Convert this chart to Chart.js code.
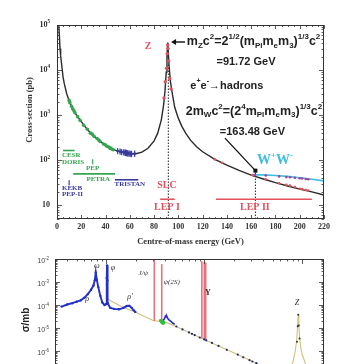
<!DOCTYPE html>
<html><head><meta charset="utf-8">
<script src="https://cdn.jsdelivr.net/npm/chart.js@4/dist/chart.umd.min.js"></script>
<style>
html,body{margin:0;padding:0;background:#fff;overflow:hidden;width:356px;height:364px;}
#c1{position:absolute;left:0;top:0;}
#c2{position:absolute;left:0;top:250px;}
</style></head><body>
<canvas id="c1" width="356" height="250"></canvas>
<canvas id="c2" width="356" height="160"></canvas>
<script>
// ===== Top panel: e+e- -> hadrons cross-section (pb) vs centre-of-mass energy (GeV)
const curveEnergy = [1.5,2,2.5,3,4,5,6,8,10,12,15,20,25,30,35,40,45,50,55,60,65,70,75,80,83,86,88,89,90,90.6,91.2,91.8,92.5,93.5,95,97,100,103,106,110,115,120,130,140,150,160,170,180,190,200,210,220];
const curveSigma  = [100000,55000,30000,21000,12000,7000,5000,3000,2100,1550,1100,720,480,350,270,215,180,160,148,140,140,152,185,270,400,800,1800,3500,9000,20000,41000,22000,11000,5500,3000,1500,850,560,400,280,200,155,105,78,60,47,38.5,32,27,23,20,17];
const petraEnergy = [10,10.6,12,13,14,14.8,17,19,22,25,27.5,29,30.5,33,34.5,35.5,38.3,39.8,41,42.6,43.6,44.2,45.5,46.3];
const petraSigma  = [2150,1900,1580,1380,1260,1130,930,770,600,490,400,380,340,305,280,262,230,220,205,198,186,188,176,172];
const tristanEnergy = [50,52,53.3,55,56,56.5,57.3,57.8,58.5,59.5,60.8,61.4,64];
const tristanSigma  = [160,156,152,150,148,146,145,144,142,141,139,138,140];
const lep1Energy = [88.2,89.2,90.2,90.8,91.2,91.5,92,93,94];
const lep1Sigma  = [2400,5500,11000,23000,36000,30000,16000,6500,3800];
const lep2Energy = [130,136,161,172,183,189,192,196,200,202,205,207];
const lep2Sigma  = [105,88,47,38,31,28.5,27.5,25.5,23.5,23,22,21.5];
const wwCurveEnergy = [161,163.5,170,180,190,200,210,220];
const wwCurveSigma  = [47,48,47.5,46,44,41,38,35];
const wwEnergy = [163,172,183,189,192,196,200,202,205,207];
const wwSigma  = [47,46,44,42.5,42,41,40,39.5,38.5,38];
const zMassLine = 91.72, wwThreshold = 163.48;
const xTickLabels = [0,20,40,60,80,100,120,140,160,180,200,220];
const yTickExponents = [1,2,3,4,5];
// collider energy ranges: [label, Emin, Emax, level(pb)]
const colliderRanges = [['CESR',5,14.5,165],['PETRA',13.4,47.8,50],['TRISTAN',47.8,67,37],['LEP I',85,97,13.7],['LEP II',131,210,13.7]];
const colliderPoints = [['PEP',29.4,93],['KEKB',10,32]];

// ===== Bottom panel: sigma (mb) vs sqrt(s) (GeV), log-log
const lowEnergy = [0.35,0.40,0.45,0.50,0.55,0.60,0.65,0.70,0.74,0.765,0.782,0.80,0.83,0.87,0.91,0.96,1.00,1.012,1.019,1.026,1.04,1.1,1.2,1.35,1.5,1.62,1.72,1.82,1.9,1.98];
const lowSigma  = [8.5e-5,1.05e-4,1.2e-4,1.4e-4,1.6e-4,2.1e-4,3e-4,4.6e-4,7e-4,1.2e-3,2.6e-3,1.3e-3,6e-4,2.5e-4,1.3e-4,1e-4,1.1e-4,1.5e-3,5.2e-3,1.2e-3,1.2e-4,7.5e-5,6.8e-5,6.5e-5,7.5e-5,9e-5,9.2e-5,7.5e-5,6e-5,5e-5];
const charmEnergy = [3.75,3.9,4.03,4.1,4.16,4.25,4.4,4.6,4.8,5.0];
const charmSigma  = [2.0e-5,2.4e-5,3.3e-5,3.0e-5,3.2e-5,2.6e-5,2.2e-5,1.9e-5,1.6e-5,1.45e-5];
const greenEnergy = [3.6,3.7,3.75,3.8,3.85];
const greenSigma  = [2.1e-5,1.8e-5,1.7e-5,1.6e-5,1.75e-5];
const highEnergy = [5.2,6,7,7.5,8,9,10,10.5,12,14,17,22,25,29,31,34];
const highSigma  = [1.16e-5,8.7e-6,6.4e-6,5.6e-6,4.9e-6,3.86e-6,3.2e-6,2.9e-6,2.25e-6,1.66e-6,1.13e-6,6.9e-7,5.3e-7,4.0e-7,3.5e-7,2.95e-7];
const modelEnergy = [1.0,1.5,2,3,4,5,7,10,15,20,30,40,50,60,70,80,85,88,90,91.2,92.4,94,97,100,110,130,167];
const modelSigma  = [1.9e-4,7.7e-5,4.8e-5,2.1e-5,1.8e-5,1.25e-5,6.4e-6,3.2e-6,1.47e-6,8.4e-7,3.8e-7,2.2e-7,1.6e-7,1.3e-7,1.5e-7,3e-7,1e-6,3e-6,1.5e-5,4.1e-5,1.5e-5,4e-6,1.3e-6,7e-7,2.3e-7,1e-7,5e-8];
const zPeakEnergy = [88.5,90,91.2,92.3,94];
const zPeakSigma  = [2.5e-6,1.2e-5,3.8e-5,1.3e-5,3.5e-6];
const resonanceEnergy = [3.097,3.686,9.46,10.02,10.36];
const resonanceBase   = [2.0e-5,1.5e-5,3.4e-6,3.0e-6,2.8e-6];
const resonanceTop    = [1e-2,6e-3,8e-3,7.5e-3,7e-3];
const yTickExponents2 = [-2,-3,-4,-5,-6,-7];

// ---------- helpers
const pts = (xs, ys) => xs.map((x, i) => ({x, y: ys[i]}));
function rich(ctx, parts, x, y, size, family, weight, style, align, color) {
  const small = size * 0.64;
  const fN = `${style||'normal'} ${weight||'normal'} ${size}px ${family}`;
  const fS = `${style||'normal'} ${weight||'normal'} ${small}px ${family}`;
  let w = 0;
  for (const [t, m] of parts) { ctx.font = m === 'n' ? fN : fS; w += ctx.measureText(t).width; }
  let cx = align === 'center' ? x - w/2 : align === 'right' ? x - w : x;
  ctx.save(); ctx.fillStyle = color || '#222'; ctx.textBaseline = 'middle'; ctx.textAlign = 'left';
  for (const [t, m] of parts) {
    ctx.font = m === 'n' ? fN : fS;
    const dy = m === 'sup' ? -size*0.38 : m === 'sub' ? size*0.3 : 0;
    ctx.fillText(t, cx, y + dy); cx += ctx.measureText(t).width;
  }
  ctx.restore();
}
function seg(ctx, x1, y1, x2, y2) { ctx.beginPath(); ctx.moveTo(x1, y1); ctx.lineTo(x2, y2); ctx.stroke(); }

const SERIF = '"Liberation Serif"', SANS = '"Liberation Sans"';
const RED = '#e4505c', GREEN = '#36a450', BLUE = '#3a3a9c', CYAN = '#40bde0', MAG = '#a0449c';

// ---------- top annotations (data coordinates)
const topNotes = [
  {p:[['Z','n']], x:75, y:3.3e4, size:10, fam:SERIF, w:'bold', c:RED, a:'center'},
  {p:[['m','n'],['Z','sub'],['c','n'],['2','sup'],['=2','n'],['1/2','sup'],['(m','n'],['Pl','sub'],['m','n'],['e','sub'],['m','n'],['3','sub'],[')','n'],['1/3','sup'],['c','n'],['2','sup']], x:107, y:4.2e4, size:12.5, fam:SANS, w:'bold', c:'#222', a:'left'},
  {p:[['=91.72 GeV','n']], x:155.7, y:1.54e4, size:11, fam:SANS, w:'bold', c:'#222', a:'center'},
  {p:[['e','n'],['+','sup'],['e','n'],['-','sup'],['\u2192hadrons','n']], x:140, y:4550, size:11, fam:SANS, w:'bold', c:'#222', a:'center'},
  {p:[['2m','n'],['W','sub'],['c','n'],['2','sup'],['=(2','n'],['4','sup'],['m','n'],['Pl','sub'],['m','n'],['e','sub'],['m','n'],['3','sub'],[')','n'],['1/3','sup'],['c','n'],['2','sup']], x:162.3, y:1230, size:12.5, fam:SANS, w:'bold', c:'#222', a:'center'},
  {p:[['=163.48 GeV','n']], x:161, y:425, size:11, fam:SANS, w:'bold', c:'#222', a:'center'},
  {p:[['W','n'],['+','sup'],['W','n'],['-','sup']], x:179.6, y:98, size:14, fam:SERIF, w:'bold', c:CYAN, a:'center'},
  {p:[['SLC','n']], x:90.6, y:27.6, size:10, fam:SERIF, w:'bold', c:RED, a:'center'},
  {p:[['LEP I','n']], x:90.6, y:8.9, size:10, fam:SERIF, w:'bold', c:RED, a:'center'},
  {p:[['LEP II','n']], x:163, y:8.9, size:10, fam:SERIF, w:'bold', c:RED, a:'center'},
  {p:[['CESR','n']], x:4.1, y:127, size:7, fam:SERIF, w:'bold', c:GREEN, a:'left'},
  {p:[['DORIS','n']], x:4.1, y:91, size:7, fam:SERIF, w:'bold', c:GREEN, a:'left'},
  {p:[['PEP','n']], x:29.4, y:68, size:7, fam:SERIF, w:'bold', c:GREEN, a:'center'},
  {p:[['PETRA','n']], x:34, y:39, size:7, fam:SERIF, w:'bold', c:GREEN, a:'center'},
  {p:[['TRISTAN','n']], x:60, y:29.6, size:7, fam:SERIF, w:'bold', c:BLUE, a:'center'},
  {p:[['KEKB','n']], x:4.1, y:23.7, size:7, fam:SERIF, w:'bold', c:BLUE, a:'left'},
  {p:[['PEP-II','n']], x:4.1, y:17.5, size:7, fam:SERIF, w:'bold', c:BLUE, a:'left'}
];
const colliderColors = {'CESR':GREEN,'PETRA':GREEN,'TRISTAN':BLUE,'LEP I':RED,'LEP II':RED,'PEP':GREEN,'KEKB':BLUE};

const topPlugin = {
  id: 'topDeco',
  afterDatasetsDraw(chart) {
    const ctx = chart.ctx, a = chart.chartArea, xs = chart.scales.x, ys = chart.scales.y;
    const px = v => xs.getPixelForValue(v), py = v => ys.getPixelForValue(v);
    ctx.save();
    ctx.strokeStyle = '#333'; ctx.lineWidth = 1;
    ctx.strokeRect(a.left + 0.5, a.top + 0.5, a.right - a.left - 1, a.bottom - a.top - 1);
    ctx.lineWidth = 0.8;
    for (let v = 0; v <= 220; v += 5) {
      const L = v % 20 === 0 ? 4 : 2, X = Math.round(px(v)) + 0.5;
      seg(ctx, X, a.bottom, X, a.bottom - L); seg(ctx, X, a.top, X, a.top + L);
    }
    for (let d = 0; d <= 5; d++) for (let k = 1; k <= 9; k++) {
      const v = k * Math.pow(10, d); if (v < 5 || v > 1e5) continue;
      const L = k === 1 ? 5 : 2.5, Y = Math.round(py(v)) + 0.5;
      seg(ctx, a.left, Y, a.left + L, Y); seg(ctx, a.right, Y, a.right - L, Y);
    }
    for (const e of yTickExponents) {
      const parts = e === 1 ? [['10','n']] : [['10','n'],[String(e),'sup']];
      rich(ctx, parts, a.left - 7, py(Math.pow(10, e)), 8, SERIF, 'bold', 'normal', 'right', '#333');
    }
    ctx.save(); ctx.translate(30, 110); ctx.rotate(-Math.PI/2);
    ctx.font = 'bold 8.5px ' + SERIF; ctx.fillStyle = '#333'; ctx.textAlign = 'center'; ctx.textBaseline = 'middle';
    ctx.fillText('Cross-section (pb)', 0, 0); ctx.restore();
    ctx.font = 'bold 8.5px ' + SERIF; ctx.fillStyle = '#333'; ctx.textAlign = 'center'; ctx.textBaseline = 'middle';
    ctx.fillText('Centre-of-mass energy (GeV)', (a.left + a.right)/2, 242);
    ctx.strokeStyle = '#111'; ctx.fillStyle = '#111'; ctx.lineWidth = 1.4;
    let x1 = px(105.5), x2 = px(94), yA = py(4.2e4);
    seg(ctx, x1, yA, x2 + 3, yA);
    ctx.beginPath(); ctx.moveTo(x2, yA); ctx.lineTo(x2 + 5, yA - 3); ctx.lineTo(x2 + 5, yA + 3); ctx.closePath(); ctx.fill();
    const bx1 = px(138.4), by1 = py(310), bx2 = px(wwThreshold), by2 = py(59);
    ctx.lineWidth = 1.3; seg(ctx, bx1, by1, bx2, by2);
    ctx.fillRect(bx2 - 2, by2 - 2, 4, 4);
    for (const n of topNotes) rich(ctx, n.p, px(n.x), py(n.y), n.size, n.fam, n.w, 'normal', n.a, n.c);
    ctx.restore();
  }
};

const dsLine = (data, color, width, dash, order) => ({type:'line', data, borderColor:color, borderWidth:width, borderDash:dash||[], pointRadius:0, fill:false, tension:0, order:order||5});
const dsPts = (data, color, r, order, style) => ({type:'line', data, showLine:false, pointRadius:r, pointBackgroundColor:color, pointBorderColor:color, pointBorderWidth: style ? 1.2 : 0, pointStyle: style || 'circle', pointRotation: style ? 90 : 0, order:order||2});

const topDatasets = [
  dsLine(pts(curveEnergy, curveSigma), '#2b2b2b', 1.4, null, 6),
  dsLine(pts(wwCurveEnergy, wwCurveSigma), CYAN, 1.6, null, 5),
  dsLine([{x:zMassLine,y:5},{x:zMassLine,y:4.2e4}], '#222', 1, [1.5,1.5], 7),
  dsLine([{x:wwThreshold,y:5},{x:wwThreshold,y:59}], '#222', 1, [1.5,1.5], 7),
  dsPts(pts(petraEnergy, petraSigma), GREEN, 1.8, 2),
  dsPts(pts(tristanEnergy, tristanSigma), BLUE, 3.2, 2, 'line'),
  dsPts(pts(tristanEnergy, tristanSigma), BLUE, 1.4, 2),
  dsPts(pts(lep1Energy, lep1Sigma), RED, 1.7, 1),
  dsPts(pts(lep2Energy, lep2Sigma), RED, 1.3, 1),
  dsPts(pts(wwEnergy, wwSigma), MAG, 1.3, 1),
  ...colliderRanges.map(r => dsLine([{x:r[1],y:r[3]},{x:r[2],y:r[3]}], colliderColors[r[0]], 1.6, null, 3)),
  ...colliderPoints.map(r => dsPts([{x:r[1],y:r[2]}], colliderColors[r[0]], 2.5, 3, 'line'))
];

new Chart(document.getElementById('c1'), {
  type: 'line',
  data: { datasets: topDatasets },
  options: {
    responsive: false, animation: false, events: [],
    layout: { padding: { left: 0, right: 32, top: 25, bottom: 0 } },
    plugins: { legend: { display: false }, tooltip: { enabled: false } },
    scales: {
      x: { type: 'linear', min: 0, max: 220, afterFit: s => { s.height = 31; },
           afterBuildTicks: s => { s.ticks = xTickLabels.map(v => ({value: v})); },
           grid: { display: false, drawTicks: false }, border: { display: false },
           ticks: { padding: 3, autoSkip: false, maxRotation: 0, color: '#333', font: { family: 'Liberation Serif', size: 8, weight: 'bold' } } },
      y: { type: 'logarithmic', min: 5, max: 1e5, afterFit: s => { s.width = 57; },
           grid: { display: false, drawTicks: false }, border: { display: false }, ticks: { display: false } }
    }
  },
  plugins: [topPlugin]
});

// ---------- bottom panel
const lowNotes = [
  {p:[['\u03c9','n']], x:0.80, y:5e-3, size:8, st:'italic', w:'normal', fam:SERIF},
  {p:[['\u03c6','n']], x:1.17, y:4.1e-3, size:8, st:'italic', w:'normal', fam:SERIF},
  {p:[['\u03c1','n']], x:0.64, y:1.8e-4, size:8, st:'italic', w:'normal', fam:SERIF},
  {p:[['\u03c1\u2032','n']], x:1.75, y:2.2e-4, size:8, st:'italic', w:'normal', fam:SERIF},
  {p:[['J/\u03c8','n']], x:2.39, y:2.4e-3, size:7, st:'italic', w:'normal', fam:SERIF},
  {p:[['\u03c8(2S)','n']], x:4.66, y:1.03e-3, size:7, st:'italic', w:'normal', fam:SERIF},
  {p:[['\u03a5','n']], x:10.9, y:3.3e-4, size:8, st:'normal', w:'bold', fam:SERIF},
  {p:[['Z','n']], x:88.3, y:1.2e-4, size:8, st:'italic', w:'normal', fam:SERIF}
];
const botPlugin = {
  id: 'botDeco',
  afterDatasetsDraw(chart) {
    const ctx = chart.ctx, a = chart.chartArea, xs = chart.scales.x, ys = chart.scales.y;
    const px = v => xs.getPixelForValue(v), py = v => ys.getPixelForValue(v);
    ctx.save();
    ctx.strokeStyle = '#333'; ctx.lineWidth = 1;
    ctx.strokeRect(a.left + 0.5, a.top + 0.5, a.right - a.left - 1, a.bottom - a.top - 1);
    ctx.lineWidth = 0.8;
    for (let d = -1; d <= 2; d++) for (let k = 1; k <= 9; k++) {
      const v = k * Math.pow(10, d); if (v < 0.3 || v > 167) continue;
      const L = k === 1 ? 5 : 2.5, X = Math.round(px(v)) + 0.5;
      seg(ctx, X, a.bottom, X, a.bottom - L); seg(ctx, X, a.top, X, a.top + L);
    }
    for (let d = -8; d <= -2; d++) for (let k = 1; k <= 9; k++) {
      const v = k * Math.pow(10, d); if (v > 1.0001e-2) continue;
      const L = k === 1 ? 5 : 2.5, Y = Math.round(py(v)) + 0.5;
      seg(ctx, a.left, Y, a.left + L, Y); seg(ctx, a.right, Y, a.right - L, Y);
    }
    for (const e of yTickExponents2) {
      rich(ctx, [['10','n'],[String(e),'sup']], a.left - 6, py(Math.pow(10, e)) + 2, 7, SANS, 'normal', 'normal', 'right', '#444');
    }
    ctx.save(); ctx.translate(26, 70); ctx.rotate(-Math.PI/2);
    ctx.font = 'bold 10px ' + SANS; ctx.fillStyle = '#222'; ctx.textAlign = 'center'; ctx.textBaseline = 'middle';
    ctx.fillText('\u03c3/mb', 0, 0); ctx.restore();
    for (const n of lowNotes) rich(ctx, n.p, px(n.x), py(n.y), n.size, n.fam, n.w, n.st, 'center', '#333');
    ctx.restore();
  }
};

const botDatasets = [
  dsLine(pts(modelEnergy, modelSigma), '#cfc07a', 1.1, null, 6),
  ...resonanceEnergy.map((e, i) => dsLine([{x:e,y:resonanceBase[i]},{x:e,y:resonanceTop[i]}], '#e8727c', 1.6, null, 4)),
  dsLine(pts(lowEnergy, lowSigma), '#2430c8', 1.9, null, 2),
  dsPts(pts(lowEnergy, lowSigma), '#2430c8', 1.2, 2),
  dsLine(pts(charmEnergy, charmSigma), '#2430c8', 1.6, null, 2),
  dsPts(pts(greenEnergy, greenSigma), '#30c040', 1.8, 1),
  dsPts(pts(highEnergy, highSigma), '#202870', 1.1, 2),
  dsPts(pts(zPeakEnergy, zPeakSigma), '#333', 1.0, 2)
];

new Chart(document.getElementById('c2'), {
  type: 'line',
  data: { datasets: botDatasets },
  options: {
    responsive: false, animation: false, events: [],
    layout: { padding: { left: 0, right: 32, top: 9, bottom: 0 } },
    plugins: { legend: { display: false }, tooltip: { enabled: false } },
    scales: {
      x: { type: 'logarithmic', min: 0.3, max: 167, afterFit: s => { s.height = 13; },
           grid: { display: false, drawTicks: false }, border: { display: false }, ticks: { display: false } },
      y: { type: 'logarithmic', min: 1e-8, max: 1e-2, afterFit: s => { s.width = 55; },
           grid: { display: false, drawTicks: false }, border: { display: false }, ticks: { display: false } }
    }
  },
  plugins: [botPlugin]
});
</script>
</body></html>
